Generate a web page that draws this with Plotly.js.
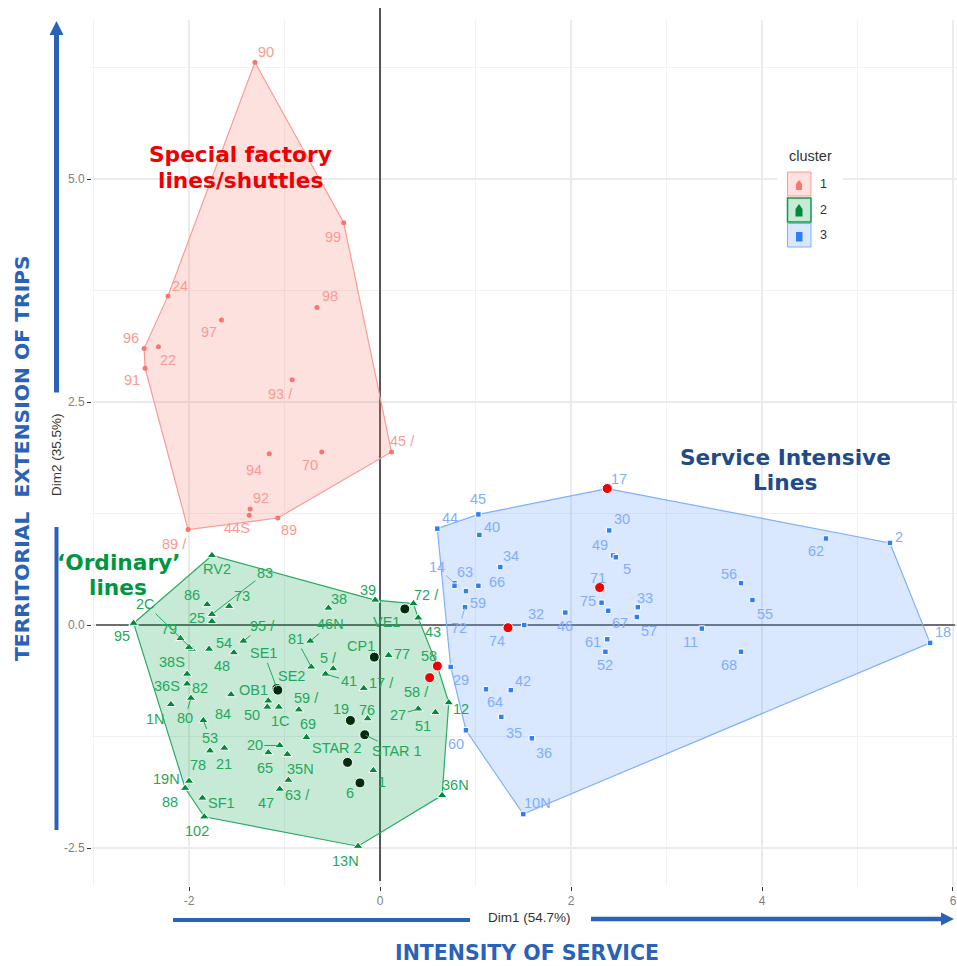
<!DOCTYPE html>
<html><head><meta charset="utf-8">
<script src="https://cdn.plot.ly/plotly-3.0.1.min.js"></script>
<style>html,body{margin:0;padding:0;background:#fff}#chart{width:957px;height:966px}</style>
</head><body><div id="chart"></div>
<script>
// ---- values ----
const names1 = ['90','99','24','98','97','96','22','91','93 /','94','70','45 /','92','44S','89','89 /'];
const x1 = [-1.31,-0.38,-2.22,-0.66,-1.66,-2.47,-2.32,-2.46,-0.92,-1.16,-0.61,0.12,-1.36,-1.37,-1.07,-2.01];
const y1 = [6.31,4.51,3.69,3.56,3.42,3.10,3.12,2.88,2.75,1.92,1.94,1.94,1.30,1.23,1.20,1.07];

const names2 = ['RV2','83','73','86','25','95','2C','79','38S','36S','82','1N','80','54','48','95 /','46N','53','84','SE1','SE2','OB1','50','1C','81','59 /','69','20','65','35N','63 /','47','21','78','19N','88','SF1','102','38','39','72 /','VE1','43','CP1','77','58','58 /','5 /','41','17 /','76','19','STAR 1','STAR 2','1','6','36N','13N','12','51','27'];
const x2 = [-1.76,-1.76,-1.58,-1.81,-1.76,-2.58,-1.97,-2.09,-2.00,-2.02,-2.02,-2.19,-1.98,-1.79,-1.53,-1.43,-0.73,-1.85,-1.56,-1.08,-1.07,-1.17,-1.18,-1.06,-0.72,-0.85,-0.77,-1.05,-1.17,-0.97,-0.96,-1.05,-1.63,-1.78,-2.00,-2.04,-1.86,-1.84,-0.54,-0.05,0.35,0.26,0.40,-0.06,0.09,0.60,0.52,-0.49,-0.57,-0.17,-0.13,-0.31,-0.16,-0.34,-0.07,-0.21,0.65,-0.23,0.72,0.58,0.40];
const y2 = [0.78,0.12,0.21,0.23,0.04,0.02,-0.27,-0.15,-0.25,-0.66,-0.55,-0.89,-0.82,-0.27,-0.31,-0.18,-0.18,-1.07,-0.78,-0.71,-0.73,-0.85,-0.92,-0.92,-0.47,-0.95,-1.26,-1.35,-1.43,-1.45,-1.74,-1.84,-1.38,-1.41,-1.75,-1.83,-1.94,-2.15,0.19,0.28,0.24,0.18,0.08,-0.36,-0.34,-0.46,-0.59,-0.49,-0.55,-0.71,-1.05,-1.07,-1.23,-1.54,-1.63,-1.77,-1.91,-2.48,-0.87,-0.98,-0.94];

const names3 = ['17','30','45','44','40','34','14','63','59','66','72','49','5','71','75','67','33','57','46','32','74','61','52','29','42','64','35','36','60','10N','62','2','56','55','11','68','18'];
const x3 = [2.38,2.40,1.03,0.60,1.04,1.26,0.78,0.90,0.78,1.03,0.89,2.44,2.47,2.30,2.32,2.39,2.70,2.69,1.94,1.51,1.34,2.38,2.36,0.74,1.37,1.11,1.27,1.59,0.90,1.50,4.67,5.34,3.78,3.90,3.37,3.78,5.76];
const y3 = [1.53,1.06,1.24,1.08,1.01,0.65,0.47,0.38,0.44,0.44,0.20,0.78,0.76,0.42,0.25,0.16,0.20,0.09,0.14,0.00,-0.03,-0.16,-0.30,-0.47,-0.73,-0.72,-1.03,-1.27,-1.18,-2.12,0.97,0.92,0.47,0.28,-0.04,-0.30,-0.20];

const hull1 = ['90','99','45 /','89','89 /','91','96','24','90'];
const hull2 = ['RV2','39','72 /','43','58','12','36N','13N','102','88','95','RV2'];
const hull3 = ['44','45','17','2','18','10N','60','29','44'];

const blackNames2 = ['SE1','SE2','VE1','CP1','19','STAR 1','STAR 2','6'];
const redNames2 = ['58','58 /'];
const redNames3 = ['17','71','74'];

const clusterNames = ['1','2','3'];
const xTicks = [-2,0,2,4,6];
const xTickText = ['-2','0','2','4','6'];
const yTicks = [-2.5,0,2.5,5];
const yTickText = ['-2.5','0.0','2.5','5.0'];

// ---- layout and style ----
const W = 957, H = 966, M = {l:92, r:0, t:20, b:80};
const PINK = '#F8766D', GREEN = '#00A04A', BLUE = '#619CFF';
const PINKL = '#FA9B93', GREENL = '#2BAA66', BLUEL = '#7FB0FF';
const PINKT = '#FB9A92', GREENT = '#1FA85A', BLUET = '#80AEFF';
const PINKF = 'rgba(248,118,109,0.22)', GREENF = 'rgba(0,160,74,0.22)', BLUEF = 'rgba(97,156,255,0.24)';
const AX = '#2A62B8';

// label offsets from the point, in pixels [dx, dy]
const off1 = {'90':[11,-10],'99':[-11,14],'24':[12,-10],'98':[13,-11],'97':[-12,12],'96':[-13,-11],'22':[10,13],'91':[-13,12],'93 /':[-12,14],'94':[-15,16],'70':[-12,13],'45 /':[11,-11],'92':[11,-11],'44S':[-12,13],'89':[11,12],'89 /':[-14,14]};
const off2 = {'RV2':[5,14],'83':[53,-41],'73':[13,-10],'86':[-15,-10],'25':[-15,-3],'95':[-12,13],'2C':[-46,-45],'79':[-11,-9],'38S':[-17,15],'36S':[-20,2],'82':[13,14],'1N':[-15,15],'80':[-6,20],'54':[15,-6],'48':[-12,13],'95 /':[19,-15],'46N':[20,-17],'53':[7,18],'84':[-8,19],'SE1':[-13,-35],'SE2':[14,-14],'OB1':[-15,-11],'50':[-15,8],'1C':[2,14],'81':[-15,-28],'59 /':[8,-12],'69':[2,-13],'20':[-25,0],'65':[-3,15],'35N':[13,15],'63 /':[9,15],'47':[-14,14],'21':[0,16],'78':[-12,14],'19N':[-23,-2],'88':[-15,14],'SF1':[19,5],'102':[-7,14],'38':[11,-9],'39':[-7,-10],'72 /':[13,-9],'VE1':[-18,13],'43':[15,14],'CP1':[-13,-11],'77':[13,-1],'58':[-8,-10],'58 /':[-13,14],'5 /':[-5,-11],'41':[23,7],'17 /':[18,-5],'76':[-1,-9],'19':[-9,-11],'STAR 1':[32,16],'STAR 2':[-11,-14],'1':[9,12],'6':[-10,10],'36N':[13,-10],'13N':[-13,15],'12':[12,6],'51':[-12,14],'27':[-20,6]};
const off3 = {'17':[12,-10],'30':[13,-11],'45':[0,-15],'44':[13,-11],'40':[13,-8],'34':[11,-11],'14':[-18,-16],'63':[-1,-19],'59':[23,17],'66':[19,-4],'72':[-6,21],'49':[-13,-10],'5':[11,12],'71':[-2,-10],'75':[-14,-2],'67':[12,12],'33':[7,-9],'57':[12,14],'46':[0,13],'32':[12,-11],'74':[-11,13],'61':[-14,3],'52':[0,13],'29':[10,13],'42':[12,-9],'64':[9,13],'35':[13,16],'36':[12,15],'60':[-10,14],'10N':[14,-11],'62':[-10,13],'2':[9,-6],'56':[-12,-9],'55':[13,14],'11':[-11,13],'68':[-12,13],'18':[13,-11]};
const leaders = new Set(['2:83','2:2C','2:80','2:95 /','2:46N','2:53','2:SE1','2:81','2:20','2:41','2:STAR 1','2:27','3:14','3:72']);

const at = (names, xs, ys, list) => ({
  x: list.map(n => xs[names.indexOf(n)]),
  y: list.map(n => ys[names.indexOf(n)])
});
const hullTrace = (names, xs, ys, list, col, fill) => {
  const p = at(names, xs, ys, list);
  return {type:'scatter', mode:'lines', x:p.x, y:p.y, fill:'toself', fillcolor:fill,
    line:{color:col, width:1.2}, hoverinfo:'skip', showlegend:false};
};
const markerColors = (names, base, black, red) => names.map(n =>
  black.includes(n) ? '#062B0C' : red.includes(n) ? '#F00000' : base);
const markerSizes = (names, base, black, red) => names.map(n =>
  (black.includes(n) || red.includes(n)) ? 10 : base);

const traces = [
  hullTrace(names1, x1, y1, hull1, PINKL, PINKF),
  hullTrace(names2, x2, y2, hull2, GREENL, GREENF),
  hullTrace(names3, x3, y3, hull3, BLUEL, BLUEF),
  {type:'scatter', mode:'markers', x:x1, y:y1, text:names1, hoverinfo:'text', showlegend:false,
   marker:{symbol:'circle', size:5, color:PINK, opacity:1}},
  {type:'scatter', mode:'markers', x:x2, y:y2, text:names2, hoverinfo:'text', showlegend:false,
   marker:{symbol:names2.map(n => (blackNames2.includes(n)||redNames2.includes(n)) ? 'circle' : 'triangle-up'), opacity:1,
           size:markerSizes(names2, 8.5, blackNames2, redNames2), color:markerColors(names2, '#008A3A', blackNames2, redNames2)}},
  {type:'scatter', mode:'markers', x:x3, y:y3, text:names3, hoverinfo:'text', showlegend:false,
   marker:{symbol:names3.map(n => redNames3.includes(n) ? 'circle' : 'square'), opacity:1,
           size:markerSizes(names3, 5.5, [], redNames3), color:markerColors(names3, '#2F7FF0', [], redNames3)}}
];

const annotations = [];
const addLabels = (id, names, xs, ys, off, col) => names.forEach((n, i) => {
  const d = off[n] || [0,0];
  const lead = leaders.has(id + ':' + n);
  const a = {x:xs[i], y:ys[i], xref:'x', yref:'y', text:n, font:{family:'Liberation Sans, Arial, sans-serif', size:14.5, color:col},
    xanchor:'center', yanchor:'middle', bgcolor:'rgba(0,0,0,0)'};
  if (lead) Object.assign(a, {showarrow:true, ax:d[0], ay:d[1], axref:'pixel', ayref:'pixel', arrowhead:0, arrowwidth:1, arrowcolor:col, standoff:1, startstandoff:0});
  else Object.assign(a, {showarrow:false, xshift:d[0], yshift:-d[1]});
  annotations.push(a);
});
addLabels(1, names1, x1, y1, off1, PINKT);
addLabels(2, names2, x2, y2, off2, GREENT);
addLabels(3, names3, x3, y3, off3, BLUET);

// pixel helpers for page furniture outside the data
const pw = W - M.l - M.r, ph = H - M.t - M.b;
const px = v => (v - M.l) / pw;
const py = v => 1 - (v - M.t) / ph;
const note = (cx, cy, text, font, extra) => annotations.push(Object.assign(
  {xref:'paper', yref:'paper', x:px(cx), y:py(cy), text, font, showarrow:false, xanchor:'center', yanchor:'middle'}, extra||{}));

const BOLD = 'DejaVu Sans, Verdana, sans-serif';
const SANS = 'Liberation Sans, Arial, sans-serif';
note(240, 155, 'Special factory', {family:BOLD, size:21.7, color:'#F00000', weight:700});
note(240, 180, 'lines/shuttles', {family:BOLD, size:21.7, color:'#F00000', weight:700});
note(785, 457, 'Service Intensive', {family:BOLD, size:21.7, color:'#1F4A8C', weight:700});
note(785, 483, 'Lines', {family:BOLD, size:21.7, color:'#1F4A8C', weight:700});
note(118, 562, '‘Ordinary’', {family:BOLD, size:21.7, color:'#009640', weight:700});
note(118, 587, 'lines', {family:BOLD, size:21.7, color:'#009640', weight:700});
note(529, 917, 'Dim1 (54.7%)', {family:SANS, size:13.5, color:'#333'});
note(56, 455, 'Dim2 (35.5%)', {family:SANS, size:13.5, color:'#333'}, {textangle:-90});
note(527, 953, 'INTENSITY OF SERVICE', {family:BOLD, size:20.5, color:AX, weight:700});
note(22, 458, 'TERRITORIAL  EXTENSION OF TRIPS', {family:BOLD, size:20.3, color:AX, weight:700}, {textangle:-90});

note(810, 156, 'cluster', {family:SANS, size:14.5, color:'#333'});
const keyY = [184, 210, 235.5];
clusterNames.forEach((c, i) => note(823, keyY[i], c, {family:SANS, size:12.5, color:'#333'}));

const rectP = (x0, y0, x1, y1, line, fill, width) => ({type:'rect', xref:'paper', yref:'paper', layer:'above',
  x0:px(x0), x1:px(x1), y0:py(y0), y1:py(y1), line:{color:line, width:width||0}, fillcolor:fill});
const pathP = (pts, col) => ({type:'path', xref:'paper', yref:'paper', layer:'above',
  path:'M' + pts.map(p => px(p[0]) + ',' + py(p[1])).join('L') + 'Z', fillcolor:col, line:{width:0}});
const lineP = (x0, y0, x1, y1, col, w) => ({type:'line', xref:'paper', yref:'paper', layer:'above',
  x0:px(x0), x1:px(x1), y0:py(y0), y1:py(y1), line:{color:col, width:w}});

const shapes = [
  // reference lines at zero: above the grid, under the traces
  {type:'line', xref:'x', yref:'y', layer:'between', x0:0, x1:0, y0:-2.87, y1:6.783, line:{color:'#555', width:2}},
  lineP(380, 8, 380, 20, '#555', 2),
  {type:'line', xref:'x', yref:'y', layer:'between', x0:-2.974, x1:6.02, y0:0, y1:0, line:{color:'#444', width:1.6}},
  // legend background, covering the grid
  {type:'rect', xref:'x', yref:'y', layer:'between', x0:4.157, x1:4.848, y0:4.204, y1:5.38, line:{width:0}, fillcolor:'#fff'},
  rectP(787.5, 172, 811, 196, PINKL, PINKF, 1),
  rectP(787.5, 198, 811, 222, GREEN, GREENF, 1.5),
  rectP(787.5, 223.5, 811, 247, BLUEL, BLUEF, 1),
  pathP([[799,180],[802,184],[802,190],[796,190],[796,184]], PINK),
  pathP([[799,204],[802.5,209],[802.5,216.5],[795.5,216.5],[795.5,209]], '#008A3A'),
  pathP([[796,232],[802.5,232],[802.5,241.5],[796,241.5]], '#2F7FF0'),
  // axis arrows
  lineP(56.5, 830, 56.5, 527, AX, 4),
  lineP(56.5, 392.5, 56.5, 33, AX, 5),
  pathP([[56.5,21],[49.5,35],[63.5,35]], AX),
  lineP(173, 920, 470, 920, AX, 4),
  lineP(591, 919, 942, 919, AX, 4.5),
  pathP([[954,919],[941,912.5],[941,925.5]], AX)
];

const layout = {
  width:W, height:H, autosize:false, margin:M, showlegend:false,
  paper_bgcolor:'#fff', plot_bgcolor:'#fff', hovermode:'closest',
  font:{family:SANS},
  xaxis:{range:[-3.016,6.042], tickmode:'array', tickvals:xTicks, ticktext:xTickText,
    showgrid:true, gridcolor:'#EBEBEB', gridwidth:1.6, showline:false, zeroline:false,
    minor:{dtick:2, tick0:-3, showgrid:true, gridcolor:'#F1F1F1', gridwidth:1.2},
    ticks:'outside', ticklen:4, tickcolor:'#333', tickwidth:1,
    tickfont:{size:12, color:'#808080'}},
  yaxis:{range:[-2.926,6.783], tickmode:'array', tickvals:yTicks, ticktext:yTickText,
    showgrid:true, gridcolor:'#EBEBEB', gridwidth:1.6, showline:false, zeroline:false,
    minor:{dtick:2.5, tick0:-1.25, showgrid:true, gridcolor:'#F1F1F1', gridwidth:1.2},
    ticks:'outside', ticklen:4, tickcolor:'#333', tickwidth:1,
    tickfont:{size:12, color:'#808080'}},
  annotations, shapes
};
Plotly.newPlot('chart', traces, layout, {displayModeBar:false});
</script></body></html>
